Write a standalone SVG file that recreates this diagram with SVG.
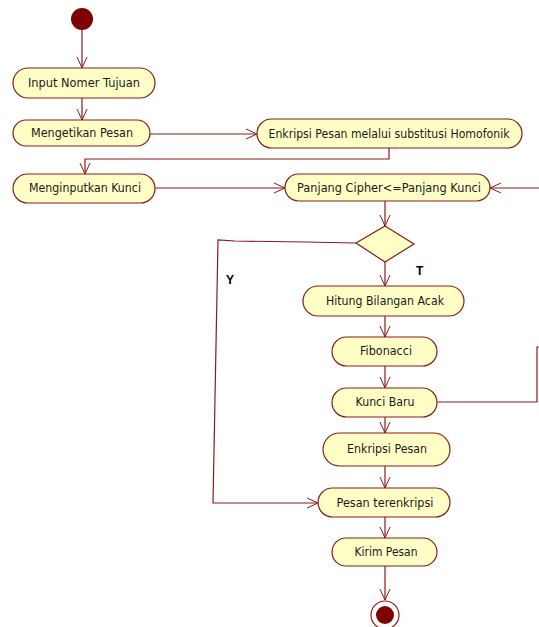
<svg xmlns="http://www.w3.org/2000/svg" width="539" height="627" viewBox="0 0 539 627">
<defs>
<marker id="arr" viewBox="0 0 12 12" refX="11" refY="6" markerWidth="12" markerHeight="12" markerUnits="userSpaceOnUse" orient="auto">
<path d="M0,1 L11,6 L0,11" fill="none" stroke="#8b1a1a" stroke-width="1"/>
</marker>
<style>
.act{fill:#ffffc6;stroke:#8b1a1a;stroke-width:1.2}
.t{font-family:"DejaVu Sans","Liberation Sans",sans-serif;font-size:12px;fill:#1a1a1a;text-anchor:middle}
.lbl{font-family:"Liberation Sans",sans-serif;font-size:12px;font-weight:bold;fill:#000}
.c{fill:none;stroke:#8b1a1a;stroke-width:1.2}
.ca{fill:none;stroke:#8b1a1a;stroke-width:1.2;marker-end:url(#arr)}
</style>
</defs>
<rect width="539" height="627" fill="#ffffff"/>
<g id="connectors">
<line class="ca" x1="82" y1="30" x2="82" y2="68"/>
<line class="ca" x1="82" y1="98" x2="82" y2="120"/>
<line class="ca" x1="150" y1="134" x2="257" y2="134"/>
<polyline class="ca" points="389,148 389,159 85,159 85,174"/>
<line class="ca" x1="155" y1="188" x2="285" y2="188"/>
<polyline class="ca" points="437,402 537,402 537,347 545,347 545,188 490,188"/>
<line class="ca" x1="385" y1="201" x2="385" y2="226"/>
<polyline class="ca" points="356,243 305,242 235,241 218,240 213,503 318,503"/>
<line class="ca" x1="385" y1="262" x2="385" y2="286"/>
<line class="ca" x1="385" y1="316" x2="385" y2="337"/>
<line class="ca" x1="385" y1="366" x2="385" y2="388"/>
<line class="ca" x1="385" y1="417" x2="385" y2="433"/>
<line class="ca" x1="385" y1="466" x2="385" y2="488"/>
<line class="ca" x1="385" y1="517" x2="385" y2="538"/>
<line class="ca" x1="385" y1="566" x2="385" y2="600"/>
<text class="lbl" x="226" y="284">Y</text>
<text class="lbl" x="416" y="275">T</text>
</g>
<g id="start"><circle cx="82" cy="19" r="11" fill="#800000"/></g>
<g id="n1"><rect class="act" x="13" y="68" width="142" height="30" rx="15"/><text class="t" x="84" y="87" textLength="112" lengthAdjust="spacingAndGlyphs">Input Nomer Tujuan</text></g>
<g id="n2"><rect class="act" x="13" y="120" width="137" height="26" rx="13"/><text class="t" x="82" y="137" textLength="102" lengthAdjust="spacingAndGlyphs">Mengetikan Pesan</text></g>
<g id="n3"><rect class="act" x="257" y="119" width="265" height="29" rx="14.5"/><text class="t" x="389" y="138" textLength="241" lengthAdjust="spacingAndGlyphs">Enkripsi Pesan melalui substitusi Homofonik</text></g>
<g id="n4"><rect class="act" x="13" y="174" width="142" height="29" rx="14.5"/><text class="t" x="85" y="192" textLength="112" lengthAdjust="spacingAndGlyphs">Menginputkan Kunci</text></g>
<g id="n5"><rect class="act" x="285" y="174" width="205" height="27" rx="13.5"/><text class="t" x="389" y="192" textLength="184" lengthAdjust="spacingAndGlyphs">Panjang Cipher&lt;=Panjang Kunci</text></g>
<g id="decision"><polygon class="act" points="385,226 414,244 385,262 356,243"/></g>
<g id="n6"><rect class="act" x="303" y="286" width="161" height="30" rx="15"/><text class="t" x="385" y="305" textLength="118" lengthAdjust="spacingAndGlyphs">Hitung Bilangan Acak</text></g>
<g id="n7"><rect class="act" x="332" y="337" width="105" height="29" rx="14.5"/><text class="t" x="386" y="355" textLength="52" lengthAdjust="spacingAndGlyphs">Fibonacci</text></g>
<g id="n8"><rect class="act" x="332" y="388" width="105" height="29" rx="14.5"/><text class="t" x="385" y="406" textLength="59" lengthAdjust="spacingAndGlyphs">Kunci Baru</text></g>
<g id="n9"><rect class="act" x="323" y="433" width="127" height="33" rx="16.5"/><text class="t" x="387" y="453" textLength="80" lengthAdjust="spacingAndGlyphs">Enkripsi Pesan</text></g>
<g id="n10"><rect class="act" x="318" y="488" width="132" height="29" rx="14.5"/><text class="t" x="385" y="507" textLength="97" lengthAdjust="spacingAndGlyphs">Pesan terenkripsi</text></g>
<g id="n11"><rect class="act" x="332" y="538" width="105" height="28" rx="14"/><text class="t" x="386" y="556" textLength="63" lengthAdjust="spacingAndGlyphs">Kirim Pesan</text></g>
<g id="end"><circle cx="385" cy="615" r="14" fill="#ffffff" stroke="#8b1a1a" stroke-width="1.2"/><circle cx="385" cy="615" r="9" fill="#800000"/></g>
</svg>
